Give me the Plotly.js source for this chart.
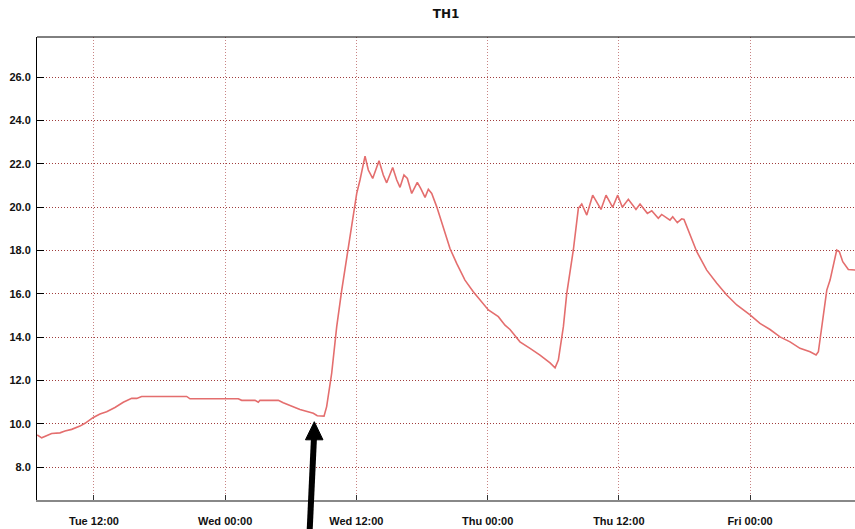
<!DOCTYPE html>
<html>
<head>
<meta charset="utf-8">
<script src="https://cdn.plot.ly/plotly-3.0.1.min.js"></script>
<style>html,body{margin:0;padding:0;background:#fff}#chart{width:855px;height:529px}</style>
</head>
<body>
<div id="chart"></div>
<script>
// Hours since Tue 2024-01-02 00:00
const hours = [6.81,7.22,8.13,8.89,9.35,9.96,10.72,11.18,11.94,12.55,13.16,13.92,14.68,15.45,15.91,16.36,
  20.48,20.78,25.20,25.51,26.73,27.03,27.18,28.86,29.31,29.93,30.84,32.06,32.42,33.04,33.28,33.74,34.20,
  34.66,35.11,35.57,36.03,36.33,36.79,37.09,37.49,38.07,38.46,38.77,39.32,39.69,39.99,40.35,40.66,41.06,
  41.57,41.88,42.28,42.58,42.89,43.35,43.95,44.56,45.17,45.93,46.69,47.31,48.07,48.98,49.59,50.05,50.96,
  51.88,52.79,53.71,54.17,54.47,54.93,55.24,55.84,56.30,56.61,57.07,57.61,58.37,58.83,59.44,59.90,60.32,
  60.87,61.57,61.94,62.61,63.01,63.61,63.92,64.68,64.93,65.35,65.75,65.96,66.51,67.13,68.04,68.96,69.87,
  70.79,72.00,72.91,73.83,74.74,75.66,76.57,77.49,78.04,78.25,78.71,79.02,79.32,79.62,79.93,80.17,80.48,
  80.99,81.60,82.10];
const temps = [9.48,9.35,9.55,9.58,9.66,9.74,9.89,10.02,10.29,10.45,10.55,10.75,10.99,11.17,11.17,11.26,
  11.26,11.15,11.15,11.08,11.08,10.99,11.08,11.08,10.97,10.85,10.66,10.48,10.37,10.35,10.79,12.33,14.48,
  16.17,17.71,19.09,20.63,21.25,22.35,21.71,21.32,22.14,21.48,21.12,21.83,21.25,20.91,21.48,21.32,20.63,
  21.14,20.86,20.45,20.82,20.63,20.01,19.05,18.09,17.40,16.63,16.09,15.70,15.25,14.94,14.55,14.35,13.78,
  13.48,13.17,12.81,12.58,12.94,14.48,16.02,18.02,19.94,20.14,19.63,20.55,19.89,20.55,19.99,20.55,19.99,
  20.36,19.89,20.14,19.71,19.83,19.48,19.66,19.40,19.55,19.28,19.46,19.43,18.71,17.94,17.09,16.48,15.94,
  15.48,15.02,14.63,14.35,14.01,13.78,13.48,13.32,13.17,13.32,14.94,16.17,16.63,17.40,18.02,17.94,17.48,
  17.12,17.09,17.08];
const xRangeHours = [6.79, 81.6];
const yRange = [6.48, 27.85];
const titleText = 'TH1';

const base = Date.UTC(2024, 0, 2, 0, 0, 0);
function toDate(h) {
  return new Date(base + h * 3600e3).toISOString().replace('T', ' ').replace('Z', '');
}
const xs = hours.map(toDate);

const tickFont = {family: 'Liberation Sans, Arial, sans-serif', size: 11, color: '#111', weight: 'bold'};

const data = [{
  type: 'scatter', mode: 'lines', x: xs, y: temps,
  line: {color: '#e46e6e', width: 1.6}, hoverinfo: 'x+y'
}];

const layout = {
  width: 855, height: 529,
  margin: {l: 37, r: 0, t: 37, b: 29},
  paper_bgcolor: '#fff', plot_bgcolor: '#fff',
  showlegend: false,
  title: {text: titleText, x: 0.5, xref: 'paper', xanchor: 'center', y: 1 - 14/529, yanchor: 'middle',
    font: {family: 'DejaVu Sans, sans-serif', size: 12, color: '#111', weight: 'bold'}},
  xaxis: {
    type: 'date', range: xRangeHours.map(toDate),
    tick0: toDate(0), dtick: 12 * 3600e3, tickformat: '%a %H:%M',
    showgrid: true, gridcolor: '#c88484', griddash: '1px,2px', gridwidth: 1,
    showline: true, linecolor: '#888', linewidth: 2,
    ticks: 'inside', ticklen: 5, tickcolor: '#333', tickwidth: 1,
    tickfont: tickFont, ticklabelstandoff: 10, zeroline: false
  },
  yaxis: {
    range: yRange, tick0: 0, dtick: 2, tickformat: '.1f',
    showgrid: true, gridcolor: '#a03c3c', griddash: '1px,2px', gridwidth: 1,
    showline: true, linecolor: '#000', linewidth: 1,
    ticks: 'inside', ticklen: 7, tickcolor: '#000', tickwidth: 1,
    tickfont: tickFont, ticklabelstandoff: 3, zeroline: false
  },
  shapes: [
    {type: 'line', xref: 'paper', yref: 'paper', x0: 0, x1: 1, y0: 1, y1: 1, line: {color: '#000', width: 1}},
    {type: 'line', xref: 'paper', yref: 'paper', x0: 0.3331, y0: -0.075, x1: 0.3386, y1: 0.135, line: {color: '#000', width: 6}},
    {type: 'path', xref: 'paper', yref: 'paper', path: 'M 0.3390 0.1691 L 0.3282 0.1300 L 0.3496 0.1300 Z', fillcolor: '#000', line: {color: '#000', width: 1}}
  ]
};

Plotly.newPlot('chart', data, layout, {displayModeBar: false, staticPlot: true});
</script>
</body>
</html>
